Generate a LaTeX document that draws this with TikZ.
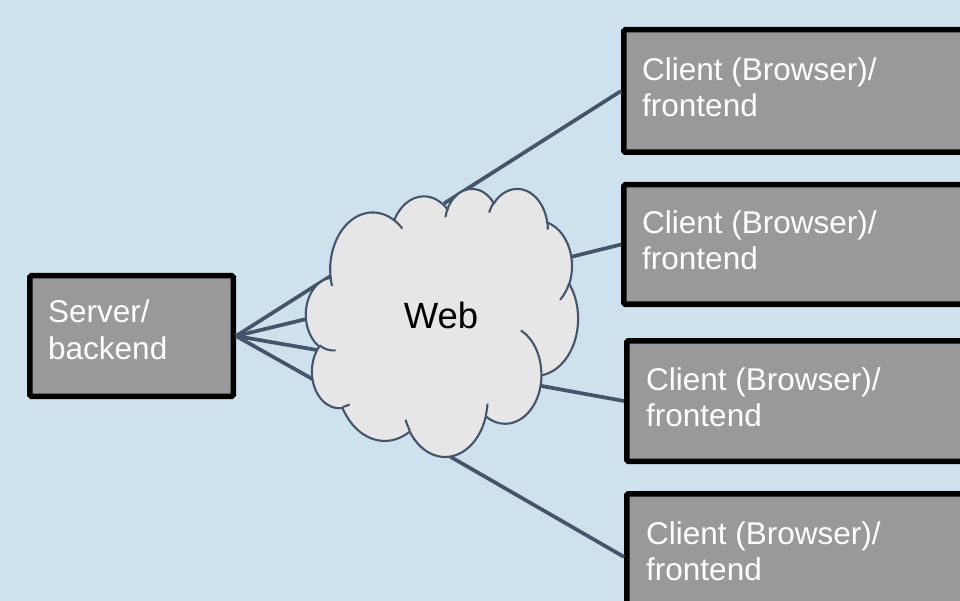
\documentclass[tikz,border=0pt]{standalone}
\usepackage{fontspec}
\setmainfont{Liberation Sans}
\definecolor{bgblue}{HTML}{CDE2EC}
\definecolor{boxgray}{HTML}{999999}
\definecolor{cloudfill}{HTML}{E6E6E6}
\definecolor{linkcol}{HTML}{44546A}
% convert DrawingML visual arc angles to parametric angles
\newcommand\cldpre[5]{%
  \pgfmathsetmacro\cldts{atan2((#2)*sin(#4),(#3)*cos(#4))}%
  \pgfmathsetmacro\cldte{atan2((#2)*sin((#4)+(#5)),(#3)*cos((#4)+(#5)))}%
  \pgfmathsetmacro\cldte{\cldte<\cldts ? \cldte+360 : \cldte}%
  \expandafter\xdef\csname cldS#1\endcsname{\cldts}%
  \expandafter\xdef\csname cldE#1\endcsname{\cldte}%
}
\begin{document}
\begin{tikzpicture}[x=1pt,y=-1pt,
  box/.style={draw=black, line width=5.5pt, fill=boxgray, rounded corners=1.5pt, inner sep=0pt},
  lbl/.style={text=white, font=\fontsize{31.5}{36.3}\selectfont, inner sep=0pt, anchor=base west},
  link/.style={draw=linkcol, line width=3.7pt},
  cloudshape/.style={draw=linkcol, line width=2.1pt, fill=cloudfill},
  cloudline/.style={draw=linkcol, line width=2.1pt}]
\useasboundingbox (0,0) rectangle (960,601);
\clip (0,0) rectangle (960,601);
\fill[bgblue] (0,0) rectangle (960,601);

% boxes
\node[box, minimum width=203.5pt, minimum height=120.5pt] (server) at (131.5,336) {};
\node[box, minimum width=366.25pt, minimum height=122.5pt] (c1) at (806.9,91) {};
\node[box, minimum width=366.25pt, minimum height=119.5pt] (c2) at (806.9,244.5) {};
\node[box, minimum width=363.25pt, minimum height=120.5pt] (c3) at (808.4,401) {};
\node[box, minimum width=363.25pt, minimum height=126.25pt] (c4) at (808.4,556.9) {};

% labels
\node[lbl] (servert) at (48,323) {\vtop{\hbox{Server/}\hbox{backend}}};
\node[lbl] (c1t) at (642,80.5) {\vtop{\hbox{Client (Browser)/}\hbox{frontend}}};
\node[lbl] (c2t) at (642,233.5) {\vtop{\hbox{Client (Browser)/}\hbox{frontend}}};
\node[lbl] (c3t) at (646,390) {\vtop{\hbox{Client (Browser)/}\hbox{frontend}}};
\node[lbl] (c4t) at (646,544) {\vtop{\hbox{Client (Browser)/}\hbox{frontend}}};

% attachment points on the cloud
\coordinate (w1) at (333,274.5);
\coordinate (w2) at (308.5,318.5);
\coordinate (w3) at (321,350.7);
\coordinate (w4) at (316,381);
\coordinate (wc1) at (444,203.5);
\coordinate (wc2) at (569,257.4);
\coordinate (wc3) at (539.5,385.6);
\coordinate (wc4) at (450.5,456.8);

% connectors
\draw[link] (server.east) -- (w1);
\draw[link] (server.east) -- (w2);
\draw[link] (server.east) -- (w3);
\draw[link] (server.east) -- (w4);
\draw[link] (c1.west) -- (wc1);
\draw[link] (c2.west) -- (wc2);
\draw[link] (c3.west) -- (wc3);
\draw[link] (c4.west) -- (wc4);

% cloud (PowerPoint-style cloud geometry)
\cldpre{A}{6.753}{9.190}{-190.4875}{123.7805}
\cldpre{B}{5.333}{7.267}{-144.1024}{89.9452}
\cldpre{C}{4.365}{5.945}{-145.8079}{99.7230}
\cldpre{D}{4.857}{6.595}{-130.9861}{117.2417}
\cldpre{E}{5.333}{7.273}{-78.7089}{109.0269}
\cldpre{F}{6.775}{9.220}{-46.2673}{130.2690}
\cldpre{G}{5.785}{7.867}{0.6250}{114.0333}
\cldpre{H}{6.752}{9.215}{22.4516}{115.1726}
\cldpre{I}{7.720}{10.543}{66.2426}{75.7110}
\cldpre{J}{4.360}{5.918}{-274.9421}{146.7356}
\cldpre{K}{4.345}{5.945}{-246.8285}{152.5189}
\cldpre{L}{4.345}{5.945}{86.7420}{26.4295}
\cldpre{M}{4.360}{5.918}{73.6105}{11.4475}
\cldpre{N}{6.752}{9.215}{137.6242}{14.0811}
\cldpre{O}{6.752}{9.215}{6.4533}{15.9984}
\cldpre{P}{5.785}{7.867}{-70.2924}{70.9174}
\cldpre{Q}{5.333}{7.273}{30.3180}{27.7515}
\cldpre{R}{4.857}{6.595}{-13.7443}{14.8570}
\cldpre{S}{4.857}{6.595}{-149.1815}{18.1959}
\cldpre{T}{4.365}{5.945}{-163.4943}{17.6856}
\cldpre{U}{6.753}{9.190}{-66.7070}{12.3194}
\cldpre{V}{6.753}{9.190}{157.6544}{11.8582}
\begin{scope}[shift={(306,188)}, x={(6.2963pt,0pt)}, y={(0pt,-6.2037pt)}]
\path[cloudshape] (3.9,14.37)
  arc[start angle=\cldSA, end angle=\cldEA, x radius=6.753, y radius=9.190]
  arc[start angle=\cldSB, end angle=\cldEB, x radius=5.333, y radius=7.267]
  arc[start angle=\cldSC, end angle=\cldEC, x radius=4.365, y radius=5.945]
  arc[start angle=\cldSD, end angle=\cldED, x radius=4.857, y radius=6.595]
  arc[start angle=\cldSE, end angle=\cldEE, x radius=5.333, y radius=7.273]
  arc[start angle=\cldSF, end angle=\cldEF, x radius=6.775, y radius=9.220]
  arc[start angle=\cldSG, end angle=\cldEG, x radius=5.785, y radius=7.867]
  arc[start angle=\cldSH, end angle=\cldEH, x radius=6.752, y radius=9.215]
  arc[start angle=\cldSI, end angle=\cldEI, x radius=7.720, y radius=10.543]
  arc[start angle=\cldSJ, end angle=\cldEJ, x radius=4.360, y radius=5.918]
  arc[start angle=\cldSK, end angle=\cldEK, x radius=4.345, y radius=5.945]
  -- cycle;
\path[cloudline]
  (4.693,26.177) arc[start angle=\cldSL, end angle=\cldEL, x radius=4.345, y radius=5.945]
  (6.928,34.899) arc[start angle=\cldSM, end angle=\cldEM, x radius=4.360, y radius=5.918]
  (16.478,39.090) arc[start angle=\cldSN, end angle=\cldEN, x radius=6.752, y radius=9.215]
  (28.827,34.751) arc[start angle=\cldSO, end angle=\cldEO, x radius=6.752, y radius=9.215]
  (34.129,22.954) arc[start angle=\cldSP, end angle=\cldEP, x radius=5.785, y radius=7.867]
  (41.798,15.354) arc[start angle=\cldSQ, end angle=\cldEQ, x radius=5.333, y radius=7.273]
  (38.324,5.426) arc[start angle=\cldSR, end angle=\cldER, x radius=4.857, y radius=6.595]
  (29.078,3.952) arc[start angle=\cldSS, end angle=\cldES, x radius=4.857, y radius=6.595]
  (22.141,4.720) arc[start angle=\cldST, end angle=\cldET, x radius=4.365, y radius=5.945]
  (14.000,5.192) arc[start angle=\cldSU, end angle=\cldEU, x radius=6.753, y radius=9.190]
  (4.127,15.789) arc[start angle=\cldSV, end angle=\cldEV, x radius=6.753, y radius=9.190];
\end{scope}
\node[font=\fontsize{36.5}{42}\selectfont, inner sep=0pt, anchor=base] (web) at (441,328) {Web};
\end{tikzpicture}
\end{document}
